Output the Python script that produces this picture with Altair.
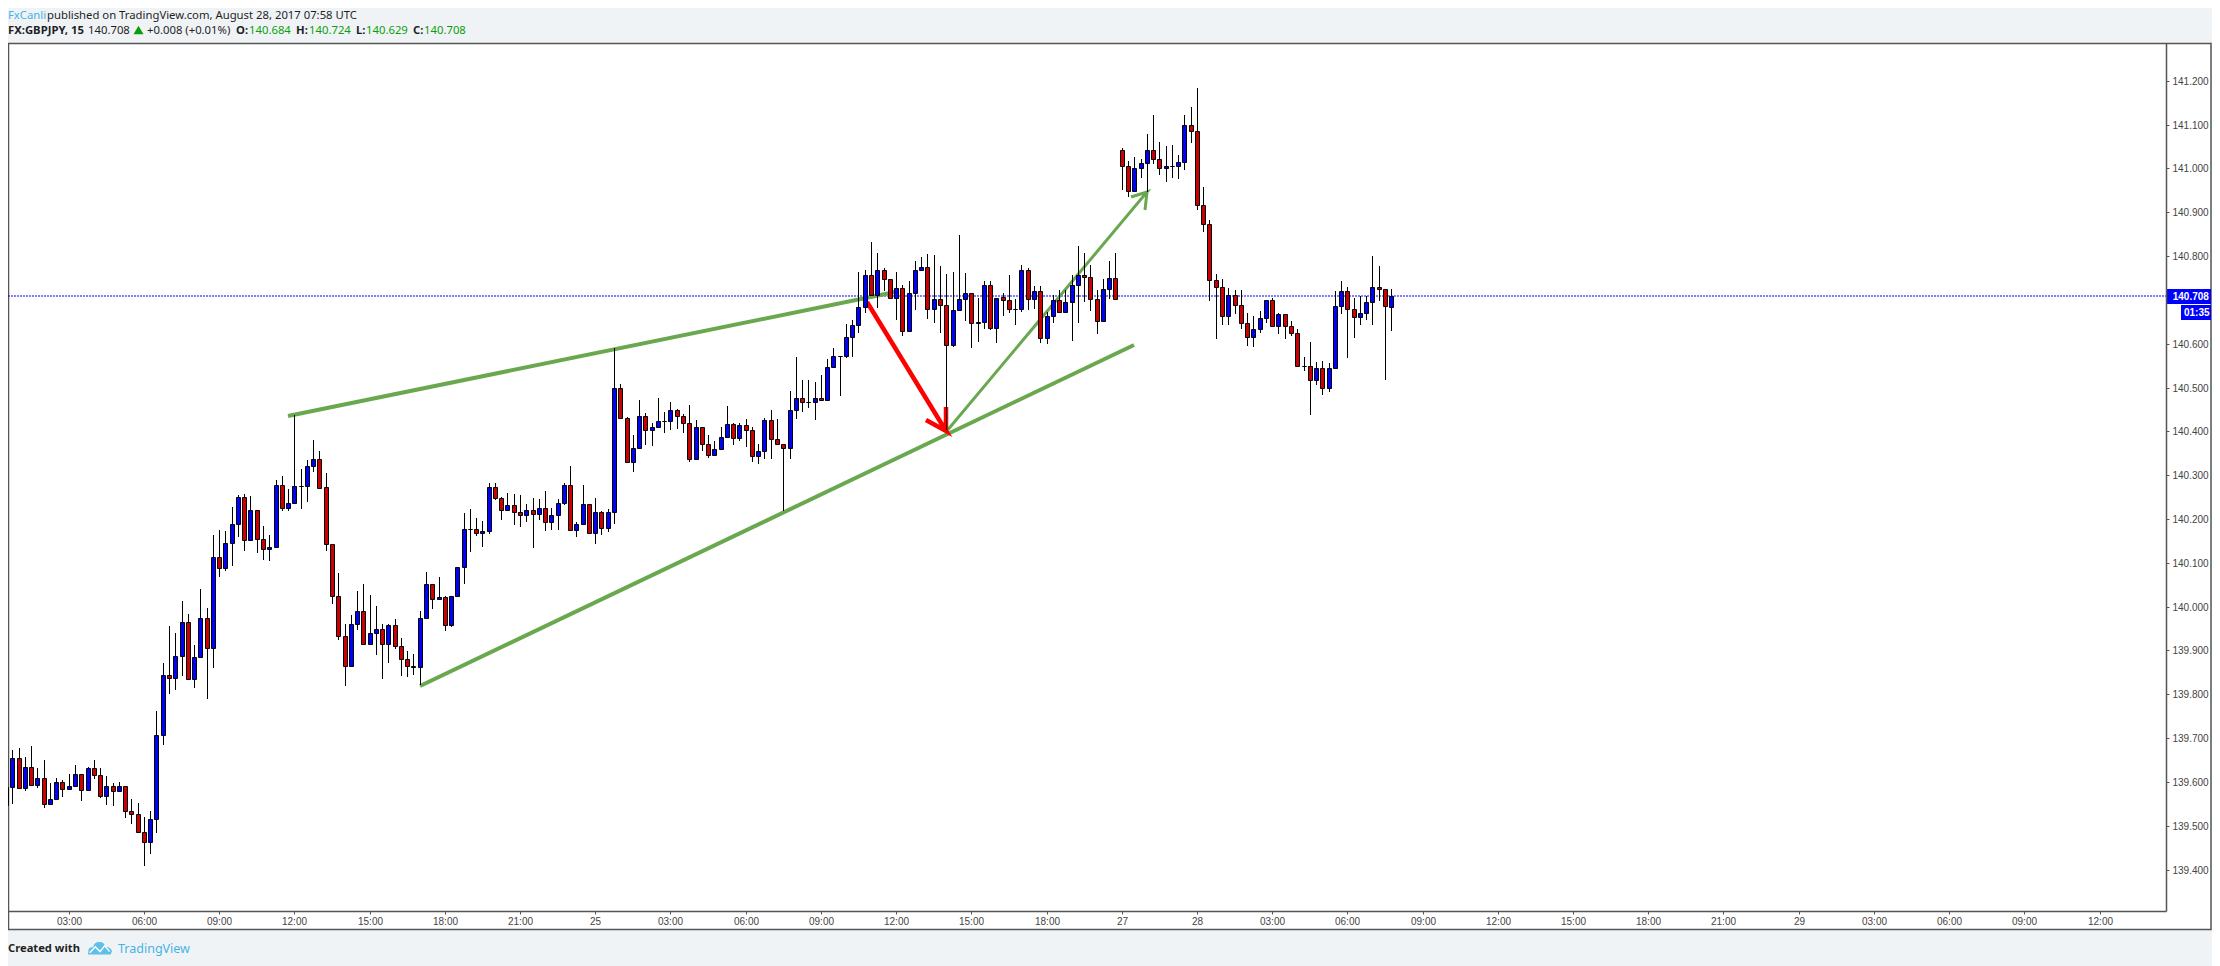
import altair as alt
import pandas as pd

opens = [139.548,139.588,139.655,139.587,139.635,139.593,139.610,139.549,139.561,139.600,
139.584,139.591,139.619,139.582,139.632,139.616,139.568,139.591,139.579,139.591,
139.534,139.527,139.486,139.463,139.516,139.708,139.845,139.837,139.888,139.966,
139.835,139.886,139.975,139.906,140.114,140.089,140.146,140.189,140.251,140.153,
140.221,140.155,140.132,140.135,140.278,140.226,140.237,140.276,140.275,140.320,
140.338,140.272,140.144,140.025,139.934,139.865,139.961,139.989,139.915,139.941,
139.950,139.915,139.957,139.911,139.881,139.863,139.863,139.973,140.052,140.018,
140.023,139.959,140.025,140.091,140.178,140.178,140.167,140.173,140.274,140.247,
140.221,140.233,140.215,140.208,140.221,140.212,140.224,140.194,140.210,140.237,
140.278,140.176,140.189,140.235,140.169,140.217,140.180,140.215,140.500,140.430,
140.331,140.361,140.434,140.404,140.411,140.423,140.423,140.448,140.434,140.420,
140.336,140.411,140.372,140.345,140.359,140.386,140.416,140.384,140.414,140.402,
140.343,140.354,140.425,140.382,140.372,140.361,140.448,140.477,140.468,140.468,
140.475,140.471,140.546,140.571,140.571,140.616,140.642,140.683,140.756,140.712,
140.767,140.747,140.705,140.728,140.630,140.715,140.769,140.776,140.678,140.701,
140.689,140.596,140.676,140.701,140.715,140.648,140.650,140.733,140.635,140.707,
140.699,140.680,140.680,140.767,140.701,140.721,140.614,140.664,140.699,140.673,
140.696,140.733,140.756,140.753,140.701,140.651,140.724,140.749,141.043,141.006,
140.949,141.000,141.013,141.041,141.022,141.000,141.006,141.006,141.015,141.098,
141.086,140.917,140.872,140.746,140.730,140.664,140.710,140.689,140.648,140.616,
140.634,140.659,140.700,140.640,140.668,140.641,140.625,140.550,140.550,140.516,
140.545,140.500,140.545,140.685,140.721,140.680,140.660,140.671,140.696,140.730,
140.724,140.684]

highs = [139.590,139.674,139.677,139.658,139.681,139.633,139.649,139.597,139.610,139.605,
139.619,139.638,139.619,139.635,139.649,139.631,139.613,139.598,139.601,139.591,
139.560,139.553,139.519,139.533,139.763,139.871,139.955,139.941,140.014,139.984,
139.912,140.040,139.996,140.163,140.174,140.172,140.227,140.254,140.256,140.252,
140.221,140.185,140.163,140.288,140.297,140.268,140.437,140.313,140.334,140.380,
140.355,140.304,140.144,140.076,139.960,139.980,140.035,140.051,140.026,140.001,
139.960,139.960,139.971,139.928,139.898,139.893,139.989,140.080,140.052,140.068,
140.025,140.025,140.091,140.213,140.222,140.202,140.195,140.281,140.281,140.251,
140.260,140.258,140.254,140.234,140.247,140.245,140.263,140.224,140.245,140.281,
140.320,140.194,140.277,140.235,140.247,140.219,140.222,140.589,140.509,140.432,
140.391,140.471,140.441,140.420,140.475,140.444,140.466,140.450,140.439,140.459,
140.425,140.411,140.391,140.378,140.411,140.458,140.420,140.418,140.427,140.409,
140.370,140.430,140.449,140.428,140.372,140.493,140.569,140.516,140.516,140.512,
140.528,140.564,140.589,140.571,140.646,140.654,140.763,140.769,140.832,140.808,
140.773,140.747,140.763,140.733,140.743,140.788,140.797,140.804,140.802,140.777,
140.759,140.763,140.848,140.761,140.715,140.705,140.743,140.743,140.705,140.715,
140.756,140.701,140.779,140.772,140.731,140.731,140.673,140.710,140.722,140.722,
140.756,140.823,140.808,140.779,140.722,140.747,140.788,140.806,141.047,141.016,
141.025,141.022,141.079,141.121,141.059,141.050,141.054,141.031,141.121,141.141,
141.184,140.958,140.883,140.760,140.748,140.726,140.722,140.723,140.671,140.662,
140.675,140.700,140.705,140.671,140.668,140.652,140.634,140.569,140.603,140.559,
140.561,140.557,140.720,140.742,140.730,140.705,140.708,140.708,140.799,140.778,
140.724,140.724]

lows = [139.548,139.549,139.587,139.579,139.594,139.586,139.540,139.549,139.559,139.565,
139.584,139.591,139.556,139.582,139.606,139.563,139.547,139.545,139.578,139.517,
139.504,139.486,139.408,139.435,139.483,139.684,139.801,139.810,139.841,139.833,
139.814,139.886,139.789,139.860,140.068,140.081,140.093,140.160,140.127,140.153,
140.122,140.106,140.104,140.135,140.218,140.218,140.234,140.223,140.239,140.307,
140.269,140.127,140.006,139.924,139.819,139.865,139.946,139.915,139.915,139.890,
139.835,139.871,139.903,139.842,139.839,139.844,139.822,139.973,139.994,140.018,
139.944,139.954,140.022,140.052,140.125,140.162,140.136,140.166,140.244,140.198,
140.218,140.186,140.182,140.193,140.134,140.198,140.173,140.175,140.175,140.232,
140.176,140.159,140.189,140.169,140.143,140.164,140.170,140.188,140.427,140.331,
140.308,140.361,140.369,140.367,140.411,140.397,140.403,140.405,140.397,140.331,
140.336,140.356,140.340,140.343,140.359,140.386,140.369,140.379,140.365,140.331,
140.326,140.337,140.337,140.370,140.219,140.337,140.427,140.445,140.454,140.426,
140.471,140.471,140.544,140.481,140.568,140.570,140.625,140.669,140.710,140.681,
140.720,140.705,140.654,140.618,140.630,140.677,140.769,140.657,140.648,140.625,
140.403,140.593,140.676,140.651,140.591,140.604,140.634,140.632,140.602,140.664,
140.670,140.643,140.673,140.677,140.678,140.602,140.600,140.648,140.673,140.673,
140.607,140.648,140.696,140.675,140.622,140.651,140.701,140.701,140.950,140.935,
140.949,140.978,140.946,141.011,140.985,140.969,140.978,140.976,140.996,141.058,
140.905,140.855,140.697,140.611,140.643,140.643,140.668,140.633,140.595,140.592,
140.624,140.647,140.640,140.622,140.611,140.617,140.550,140.538,140.437,140.506,
140.483,140.490,140.545,140.668,140.568,140.613,140.643,140.654,140.643,140.698,
140.517,140.629]

closes = [139.588,139.655,139.587,139.635,139.594,139.610,139.550,139.562,139.600,139.584,
139.591,139.619,139.582,139.632,139.616,139.568,139.591,139.579,139.591,139.534,
139.527,139.486,139.463,139.516,139.708,139.845,139.837,139.888,139.966,139.835,
139.886,139.975,139.906,140.114,140.089,140.146,140.189,140.251,140.153,140.221,
140.155,140.132,140.135,140.278,140.226,140.237,140.276,140.276,140.320,140.338,
140.271,140.144,140.025,139.934,139.865,139.961,139.989,139.915,139.941,139.950,
139.915,139.957,139.911,139.881,139.865,139.865,139.973,140.052,140.018,140.023,
139.959,140.025,140.091,140.178,140.178,140.167,140.173,140.274,140.247,140.221,
140.233,140.215,140.208,140.221,140.212,140.224,140.194,140.210,140.237,140.278,
140.176,140.189,140.235,140.169,140.217,140.180,140.215,140.500,140.430,140.331,
140.361,140.434,140.404,140.411,140.423,140.423,140.448,140.434,140.420,140.336,
140.411,140.372,140.345,140.359,140.386,140.416,140.384,140.414,140.402,140.343,
140.354,140.425,140.382,140.372,140.361,140.448,140.477,140.468,140.468,140.475,
140.471,140.546,140.571,140.571,140.616,140.642,140.683,140.756,140.712,140.767,
140.747,140.705,140.728,140.630,140.715,140.769,140.776,140.678,140.701,140.689,
140.596,140.676,140.701,140.715,140.648,140.650,140.733,140.635,140.705,140.699,
140.680,140.680,140.767,140.701,140.721,140.614,140.664,140.699,140.673,140.696,
140.733,140.756,140.753,140.701,140.651,140.724,140.749,140.701,141.006,140.949,
141.000,141.013,141.041,141.022,141.000,141.006,141.006,141.015,141.098,141.086,
140.917,140.872,140.746,140.730,140.664,140.710,140.689,140.648,140.616,140.634,
140.659,140.700,140.640,140.668,140.640,140.625,140.550,140.550,140.516,140.545,
140.500,140.545,140.685,140.721,140.680,140.660,140.671,140.696,140.730,140.724,
140.685,140.708]

tick_bars = [10,22,34,46,58,70,82,94,106,118,130,142,154,166,178,190,202,214,226,238,250,262,274,286,298,310,322,334]
tick_labels = ["03:00","06:00","09:00","12:00","15:00","18:00","21:00","25","03:00","06:00","09:00","12:00","15:00","18:00","27","28","03:00","06:00","09:00","12:00","15:00","18:00","21:00","29","03:00","06:00","09:00","12:00"]
price_ticks = [139.4,139.5,139.6,139.7,139.8,139.9,140.0,140.1,140.2,140.3,140.4,140.5,140.6,140.8,140.9,141.0,141.1,141.2]
last_price = 140.708

line_id = ["top","top","low","low","ga","ga","ga","ga","ga","ra","ra","ra","ra","ra"]
line_bar = [45.0,141.8,66.0,180.0,150.0,182.1,179.5,182.1,181.7,137.3,150.0,146.7,150.0,150.0]
line_price = [140.436,140.718,139.820,140.597,140.399,140.945,140.934,140.945,140.906,140.696,140.401,140.426,140.401,140.455]

bars = pd.DataFrame({"i": list(range(len(opens))), "o": opens, "h": highs, "l": lows, "c": closes})
bars["dir"] = ["up" if c >= o else "down" for o, c in zip(opens, closes)]
lines = pd.DataFrame({"id": line_id, "i": line_bar, "p": line_price, "n": list(range(len(line_id)))})

W, H = 2158, 868
BG = "#f0f3f6"; GREY = "#555555"; INK = "#1f1f1f"; SKY = "#45b3e6"; GREEN = "#0aa00a"; BLUE = "#0000ff"
one = pd.DataFrame({"a": [0]})
xs = alt.Scale(domain=[0.314, 344.6], round=True, nice=False, zero=False, padding=0)
ys = alt.Scale(domain=[139.3056, 141.286], round=True, nice=False, zero=False, padding=0)
label_map = "{" + ",".join(f"'{b}':'{t}'" for b, t in zip(tick_bars, tick_labels)) + "}"

def label(t, px, py, color=INK, bold=False, size=11.3, font="Noto Sans"):
    return alt.Chart(one).mark_text(align="left", baseline="middle", color=color, font=font, fontSize=size,
                                    fontWeight="bold" if bold else "normal").encode(
        x=alt.value(px - 8), y=alt.value(py - 43), text=alt.value(t))

pane = alt.Chart(one).mark_rect(fill="white", stroke=GREY, strokeWidth=1.5).encode(
    x=alt.value(0.5), x2=alt.value(2203), y=alt.value(0.5), y2=alt.value(886.5))

price_line = alt.Chart(pd.DataFrame({"p": [last_price]})).mark_rule(color=BLUE, strokeWidth=1, strokeDash=[2, 1]).encode(
    y=alt.Y("p:Q", scale=ys), x=alt.value(0), x2=alt.value(W))

def seg(ids, color, width):
    return alt.Chart(lines[lines.id.isin(ids)]).mark_line(color=color, strokeWidth=width, clip=True).encode(
        x=alt.X("i:Q", scale=xs), y=alt.Y("p:Q", scale=ys), detail="id:N", order="n:Q")

t1 = seg(["top", "low"], "#6aa84f", 4)
t2 = seg(["ga"], "#6aa84f", 3)
t3 = seg(["ra"], "#ff0000", 4.5)

wicks = alt.Chart(bars).mark_rule(color="black", strokeWidth=1, xOffset=0.5, clip=True).encode(
    x=alt.X("i:Q", scale=xs, title=None,
            axis=alt.Axis(values=tick_bars, labelExpr=f"{label_map}[''+datum.value]", grid=False, orient="bottom",
                          zindex=1, domainColor=GREY, domainWidth=1.5, tickColor=GREY, tickSize=3, labelColor="#444444",
                          labelFont="Liberation Sans", labelFontSize=10, labelPadding=2, labelOverlap=False, labelFlush=False, title=None)),
    y=alt.Y("h:Q", scale=ys, title=None,
            axis=alt.Axis(values=price_ticks, format=".3f", grid=False, orient="right", zindex=1,
                          domainColor=GREY, domainWidth=1.5, tickColor=GREY, tickSize=3, labelColor="#444444",
                          labelFont="Liberation Sans", labelFontSize=10, labelPadding=3, labelOverlap=False, labelFlush=False, title=None)),
    y2="l:Q")

bodies = alt.Chart(bars).mark_bar(size=4, stroke="black", strokeWidth=1, xOffset=0.5, yOffset=0.5, y2Offset=0.5, clip=True).encode(
    x=alt.X("i:Q", scale=xs), y=alt.Y("o:Q", scale=ys), y2="c:Q",
    color=alt.Color("dir:N", scale=alt.Scale(domain=["up", "down"], range=[BLUE, "#cc0000"]), legend=None))

tag1 = alt.Chart(one).mark_rect(fill=BLUE).encode(x=alt.value(2158.5), x2=alt.value(2203), y=alt.value(246), y2=alt.value(261))
tag2 = alt.Chart(one).mark_rect(fill=BLUE).encode(x=alt.value(2173), x2=alt.value(2203), y=alt.value(262), y2=alt.value(277))

texts = [
    label("FxCanli", 8, 16, color=SKY),
    label("published on TradingView.com, August 28, 2017 07:58 UTC", 47, 16),
    label("FX:GBPJPY, 15", 8, 30.5, bold=True),
    label("140.708", 88, 30.5),
    label("+0.008 (+0.01%)", 147, 30.5),
    label("O:", 236, 30.5, bold=True), label("140.684", 249, 30.5, color=GREEN),
    label("H:", 296, 30.5, bold=True), label("140.724", 309, 30.5, color=GREEN),
    label("L:", 356, 30.5, bold=True), label("140.629", 366, 30.5, color=GREEN),
    label("C:", 413, 30.5, bold=True), label("140.708", 424, 30.5, color=GREEN),
    label("Created with", 8, 949, bold=True, size=11.2),
    label("TradingView", 118, 949, color=SKY, size=12.5),
    label("140.708", 2172.7, 296.5, color="white", bold=True, size=10, font="Liberation Sans"),
    label("01:35", 2184, 313, color="white", bold=True, size=10, font="Liberation Sans"),
]
tri = alt.Chart(one).mark_point(shape="triangle-up", filled=True, color="#0a9f0a", size=100, opacity=1).encode(
    x=alt.value(138.5 - 8), y=alt.value(30 - 43))
logo = alt.Chart(one).mark_point(
    shape="M-1,0.55 L-0.95,0.1 Q-0.85,-0.1 -0.6,-0.05 Q-0.45,-0.55 0,-0.5 Q0.35,-0.5 0.45,-0.1 Q0.85,-0.1 1,0.25 L0.9,0.55 Z",
    filled=True, color="#5cc0e8", size=576, opacity=1).encode(x=alt.value(100 - 8), y=alt.value(948 - 43))
logo2 = alt.Chart(one).mark_point(
    shape="M-0.85,0.4 L-0.4,-0.1 L0,0.3 L0.4,-0.2 L0.8,0.3",
    filled=False, color="white", size=576, strokeWidth=1.5, opacity=1).encode(x=alt.value(100 - 8), y=alt.value(948 - 43))

chart = alt.layer(pane, price_line, t1, t2, t3, wicks, bodies, tag1, tag2, tri, logo, logo2, *texts).properties(
    width=W, height=H, background=BG,
    padding={"left": 0, "top": 35, "right": 46, "bottom": 55},
    autosize=alt.AutoSizeParams(type="none", contains="content"),
).configure_view(stroke=None)

chart.save("out.html", embed_options={"renderer": "svg", "actions": False})
